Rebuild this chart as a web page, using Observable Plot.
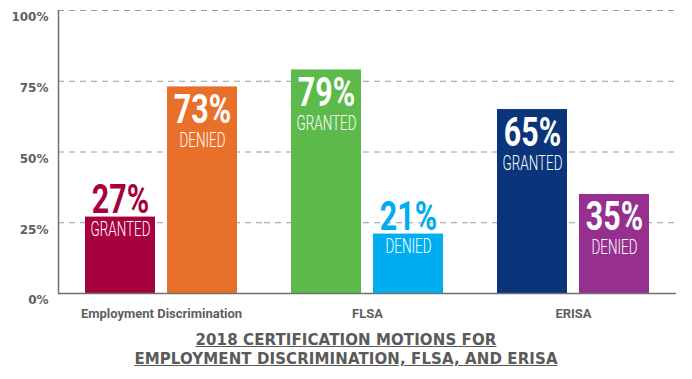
<!DOCTYPE html>
<html><head><meta charset="utf-8">
<script src="https://cdn.jsdelivr.net/npm/d3@7"></script>
<script src="https://cdn.jsdelivr.net/npm/@observablehq/plot@0.6"></script>
<style>
body{margin:0;background:#fff;width:692px;height:379px;overflow:hidden}
#title{font-family:"DejaVu Sans";font-weight:bold;font-size:15px;color:#5a5a5a;text-align:center;text-decoration:underline;line-height:19px;letter-spacing:0.1px;margin-top:9px}
</style></head><body>
<div id="chart"></div>
<div id="title">2018 CERTIFICATION MOTIONS FOR<br>EMPLOYMENT DISCRIMINATION, FLSA, AND ERISA</div>
<script>
const groups = ["Employment Discrimination", "FLSA", "ERISA"];
const statuses = ["GRANTED", "DENIED"];
const granted = [27, 79, 65];
const denied = [73, 21, 35];
const yTicks = [0, 25, 50, 75, 100];
const barColors = [["#a6003e", "#e8702a"], ["#5cba4a", "#00aeef"], ["#0a357a", "#962f8f"]];
const insideThreshold = 30;

const data = groups.flatMap((g, i) => [
  {group: g, status: "GRANTED", value: granted[i], color: barColors[i][0]},
  {group: g, status: "DENIED", value: denied[i], color: barColors[i][1]}
]);
const inside = data.filter(d => d.value >= insideThreshold);
const outside = data.filter(d => d.value < insideThreshold);

const pctStyle = {fontSize: 40, fontWeight: 700, fontFamily: "Roboto", lineAnchor: "bottom", ariaLabel: () => "pct"};
const wordStyle = {fontSize: 21, fontWeight: 300, fontFamily: "Roboto", lineAnchor: "bottom", fill: "white", ariaLabel: () => "word"};

const chart = Plot.plot({
  width: 692, height: 322,
  marginLeft: 57, marginRight: 16, marginTop: 10, marginBottom: 29,
  style: {fontFamily: "DejaVu Sans", color: "#5f5f5f", background: "white"},
  fx: {domain: groups, padding: 0, label: null},
  x: {domain: statuses, paddingInner: 0.146, paddingOuter: 0.329, axis: null},
  y: {domain: [0, 100]},
  marks: [
    Plot.gridY(yTicks.filter(d => d > 0), {stroke: "#9a9a9a", strokeOpacity: 1, strokeDasharray: "6,5"}),
    Plot.barY(data, {fx: "group", x: "status", y: "value", fill: "color"}),
    Plot.ruleY([0], {stroke: "#6f6f6f", strokeWidth: 1.5}),
    Plot.frame({anchor: "left", facetAnchor: "left", stroke: "#6f6f6f", strokeWidth: 1.5}),
    Plot.axisY(yTicks, {anchor: "left", tickSize: 0, tickPadding: 10, tickFormat: d => d + "%", label: null,
      fontSize: 12, fontWeight: 700, dy: 7}),
    Plot.axisFx({anchor: "bottom", tickSize: 0, tickPadding: 15, label: null,
      fontSize: 13, fontWeight: 700, fontFamily: "Roboto"}),
    Plot.text(inside, {fx: "group", x: "status", y: "value", text: d => d.value + "%", dy: 36, fill: "white", ...pctStyle}),
    Plot.text(outside, {fx: "group", x: "status", y: "value", text: d => d.value + "%", dy: -4, fill: "color", ...pctStyle}),
    Plot.text(inside, {fx: "group", x: "status", y: "value", text: "status", dy: 60, ...wordStyle}),
    Plot.text(outside, {fx: "group", x: "status", y: "value", text: "status", dy: 19, ...wordStyle})
  ]
});
document.getElementById("chart").appendChild(chart);

// condense the label glyphs horizontally around their own centre
const squeeze = {pct: 0.76, word: 0.64};
d3.select(chart).selectAll("text").each(function() {
  const k = squeeze[this.getAttribute("aria-label")];
  if (!k) return;
  const b = this.getBBox();
  const cx = b.x + b.width / 2;
  const t = this.getAttribute("transform") || "";
  this.setAttribute("transform", `${t} translate(${cx},0) scale(${k},1) translate(${-cx},0)`);
});
</script>
</body></html>
